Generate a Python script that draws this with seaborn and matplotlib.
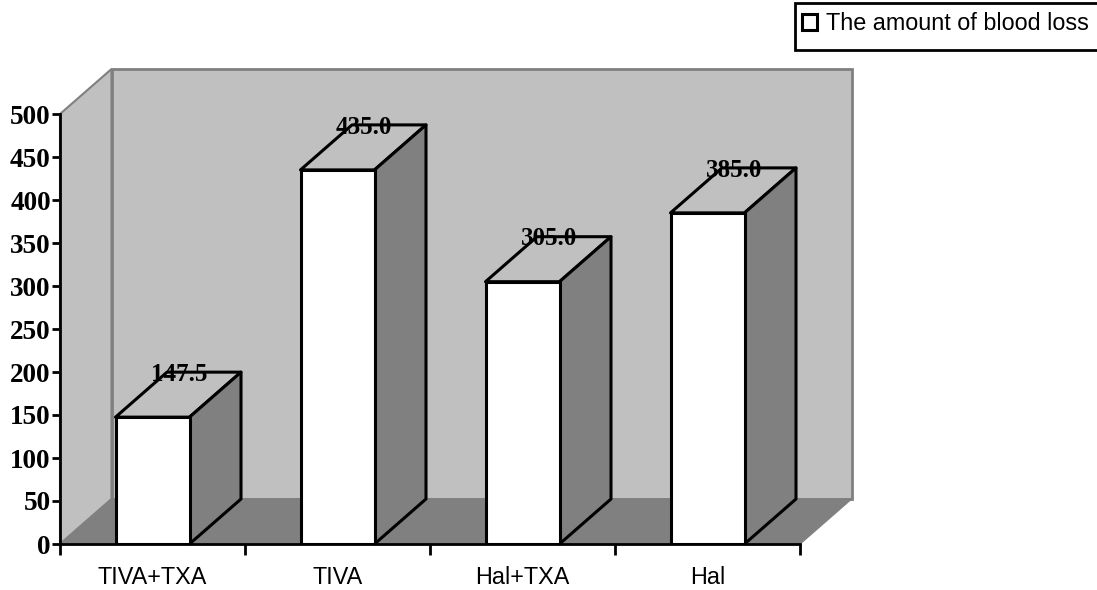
import matplotlib
matplotlib.use("Agg")
import matplotlib.pyplot as plt
import matplotlib.patches as mpatches
from matplotlib.patches import Polygon, Rectangle
import pandas as pd
import seaborn as sns

categories = ["TIVA+TXA", "TIVA", "Hal+TXA", "Hal"]
blood_loss = [147.5, 435.0, 305.0, 385.0]
value_labels = ["147.5", "435.0", "305.0", "385.0"]
y_ticks = [0, 50, 100, 150, 200, 250, 300, 350, 400, 450, 500]
legend_label = "The amount of blood loss"

W, H = 1097, 590
# depth of the fake 3d box, in data units
DX = 51.5 / 185
DY = 45 / 0.86

sns.set_theme(style="white")
plt.rcParams["font.family"] = ["Liberation Sans", "DejaVu Sans"]

df = pd.DataFrame({"group": categories, "loss": blood_loss})

fig = plt.figure(figsize=(W / 100, H / 100), dpi=100)
ax = fig.add_axes([60 / W, 1 - 544 / H, 740 / W, 430 / H])

sns.barplot(
    data=df, x="group", y="loss", color="white", saturation=1, width=0.4,
    edgecolor="black", linewidth=2.2, ax=ax, zorder=5,
)
ax.set_xlim(-0.5, 3.5)
ax.set_ylim(0, 500)

# walls and floor
x0, x1 = -0.5, 3.5
wall = "#c0c0c0"
floor = "#808080"
edge = "#808080"
ax.add_patch(Polygon([(x0, 0), (x0 + DX, DY), (x0 + DX, 500 + DY), (x0, 500)],
                     fc=wall, ec=edge, lw=1.5, clip_on=False, zorder=1))
ax.add_patch(Polygon([(x0 + DX, DY), (x1 + DX, DY), (x1 + DX, 500 + DY), (x0 + DX, 500 + DY)],
                     fc=wall, ec=edge, lw=2, clip_on=False, zorder=1))
ax.add_patch(Polygon([(x0, 0), (x0 + DX, DY), (x1 + DX, DY), (x1, 0)],
                     fc=floor, ec=edge, lw=1, clip_on=False, zorder=2))

# top and side of each bar
for bar, val, lab in zip(ax.patches[:4], blood_loss, value_labels):
    left = bar.get_x()
    right = left + bar.get_width()
    ax.add_patch(Polygon([(left, val), (left + DX, val + DY), (right + DX, val + DY), (right, val)],
                         fc=wall, ec="black", lw=2.2, joinstyle="round", clip_on=False, zorder=4))
    ax.add_patch(Polygon([(right, 0), (right + DX, DY), (right + DX, val + DY), (right, val)],
                         fc=floor, ec="black", lw=2.2, joinstyle="round", clip_on=False, zorder=4))
    ax.text((left + right) / 2 + DX / 2 + 0.005, val + DY - 2.5, lab, ha="center", va="center",
            family="Liberation Serif", weight="bold", fontsize=18, color="black", zorder=6)

for s in ["top", "right"]:
    ax.spines[s].set_visible(False)
for s in ["left", "bottom"]:
    ax.spines[s].set_linewidth(2)
    ax.spines[s].set_color("black")
    ax.spines[s].set_zorder(7)

ax.set_xticks([-0.5, 0.5, 1.5, 2.5, 3.5])
ax.set_xticklabels([])
ax.set_xticks([0, 1, 2, 3], labels=categories, minor=True)
ax.tick_params(axis="x", which="major", length=8, width=2, bottom=True, color="black")
ax.tick_params(axis="x", which="minor", length=0, pad=16, labelsize=16.8, labelcolor="black", bottom=False)
ax.set_yticks(y_ticks)
ax.tick_params(axis="y", length=6, width=2, left=True, color="black", pad=0.6, labelsize=19.5, labelcolor="black")
for t in ax.get_yticklabels():
    t.set_family("Liberation Serif")
    t.set_weight("bold")
ax.set_xlabel("")
ax.set_ylabel("")

# legend box runs off the right edge of the picture
fig.add_artist(Rectangle((795 / W, 1 - 50 / H), 320 / W, 47 / H, transform=fig.transFigure,
                         fc="white", ec="black", lw=2))
handle = mpatches.Patch(fc="white", ec="black", lw=2.2, label=legend_label)
leg = fig.legend(
    handles=[handle], loc="upper left", bbox_to_anchor=(802 / W, 1 - 12 / H),
    fontsize=16.8, frameon=False, borderaxespad=0, borderpad=0, labelcolor="black",
    handlelength=0.65, handleheight=0.65, handletextpad=0.4,
)

plt.savefig("out.png", dpi=100)
